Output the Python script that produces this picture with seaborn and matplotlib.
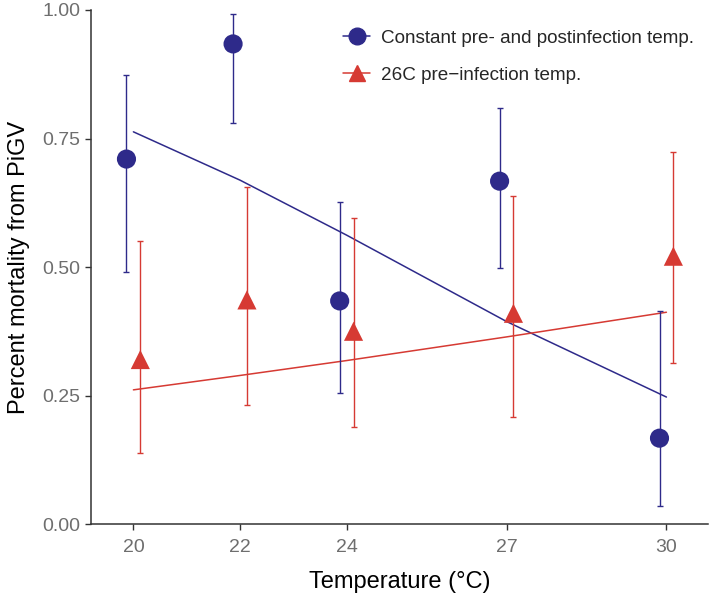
import matplotlib
matplotlib.use("Agg")
import matplotlib.pyplot as plt
from matplotlib.lines import Line2D
import seaborn as sns
import pandas as pd

# values
temps = [20, 22, 24, 27, 30]
groups = ["Constant pre- and postinfection temp.", "26C pre\u2212infection temp."]

const_mean = [0.710, 0.934, 0.434, 0.667, 0.167]
const_low = [0.490, 0.780, 0.255, 0.498, 0.035]
const_high = [0.874, 0.993, 0.626, 0.809, 0.414]
const_fit = [0.763, 0.669, 0.562, 0.394, 0.247]

pre26_mean = [0.320, 0.436, 0.375, 0.410, 0.521]
pre26_low = [0.138, 0.232, 0.188, 0.208, 0.313]
pre26_high = [0.550, 0.656, 0.595, 0.638, 0.724]
pre26_fit = [0.261, 0.289, 0.318, 0.364, 0.412]

colors = {groups[0]: "#2e2a8a", groups[1]: "#d63a33"}
markers = {groups[0]: "o", groups[1]: "^"}
dodge = {groups[0]: -0.13, groups[1]: 0.13}

pts = pd.concat([
    pd.DataFrame({"temp": temps, "mean": const_mean, "low": const_low,
                  "high": const_high, "group": groups[0]}),
    pd.DataFrame({"temp": temps, "mean": pre26_mean, "low": pre26_low,
                  "high": pre26_high, "group": groups[1]}),
], ignore_index=True)
pts["xpos"] = pts["temp"] + pts["group"].map(dodge)

fits = pd.concat([
    pd.DataFrame({"temp": temps, "fit": const_fit, "group": groups[0]}),
    pd.DataFrame({"temp": temps, "fit": pre26_fit, "group": groups[1]}),
], ignore_index=True)

sns.set_style("ticks")
plt.rcParams["font.family"] = ["Liberation Sans", "DejaVu Sans"]

fig = plt.figure(figsize=(7.09, 5.95), dpi=100)
ax = fig.add_axes([0.128, 0.1193, 0.8706, 0.8639])

sns.lineplot(data=fits, x="temp", y="fit", hue="group", palette=colors,
             linewidth=1.1, legend=False, ax=ax, zorder=2)

for g in groups:
    d = pts[pts["group"] == g]
    ax.errorbar(d["xpos"], d["mean"],
                yerr=[d["mean"] - d["low"], d["high"] - d["mean"]],
                fmt="none", ecolor=colors[g], elinewidth=1.0,
                capsize=2.2, capthick=1.0, zorder=3)

sns.scatterplot(data=pts, x="xpos", y="mean", hue="group", style="group",
                palette=colors, markers=markers, s=190, linewidth=0,
                legend=False, ax=ax, zorder=4)

ax.set_xlim(19.2, 30.78)
ax.set_ylim(0, 1)
ax.set_xticks(temps)
ax.set_yticks([0, 0.25, 0.5, 0.75, 1.0])
ax.set_yticklabels(["0.00", "0.25", "0.50", "0.75", "1.00"])
ax.set_xlabel("Temperature (\u00b0C)", fontsize=17, color="black", labelpad=11)
ax.set_ylabel("Percent mortality from PiGV", fontsize=17, color="black", labelpad=9)
ax.tick_params(axis="both", labelsize=14, labelcolor="#6e6e6e",
               color="#333333", length=4.5, width=1.0)
ax.tick_params(axis="x", pad=6)
ax.tick_params(axis="y", pad=3)
for s in ["left", "bottom"]:
    ax.spines[s].set_color("#333333")
    ax.spines[s].set_linewidth(1.1)
sns.despine(ax=ax)

handles = [Line2D([0], [0], color=colors[g], marker=markers[g], markersize=12,
                  linewidth=1.1) for g in groups]
ax.legend(handles, groups, loc="upper left", bbox_to_anchor=(0.381, 0.995),
          frameon=False, fontsize=13.6, handlelength=1.45, handletextpad=0.57,
          labelspacing=1.05)

fig.savefig("out.png", dpi=100)
